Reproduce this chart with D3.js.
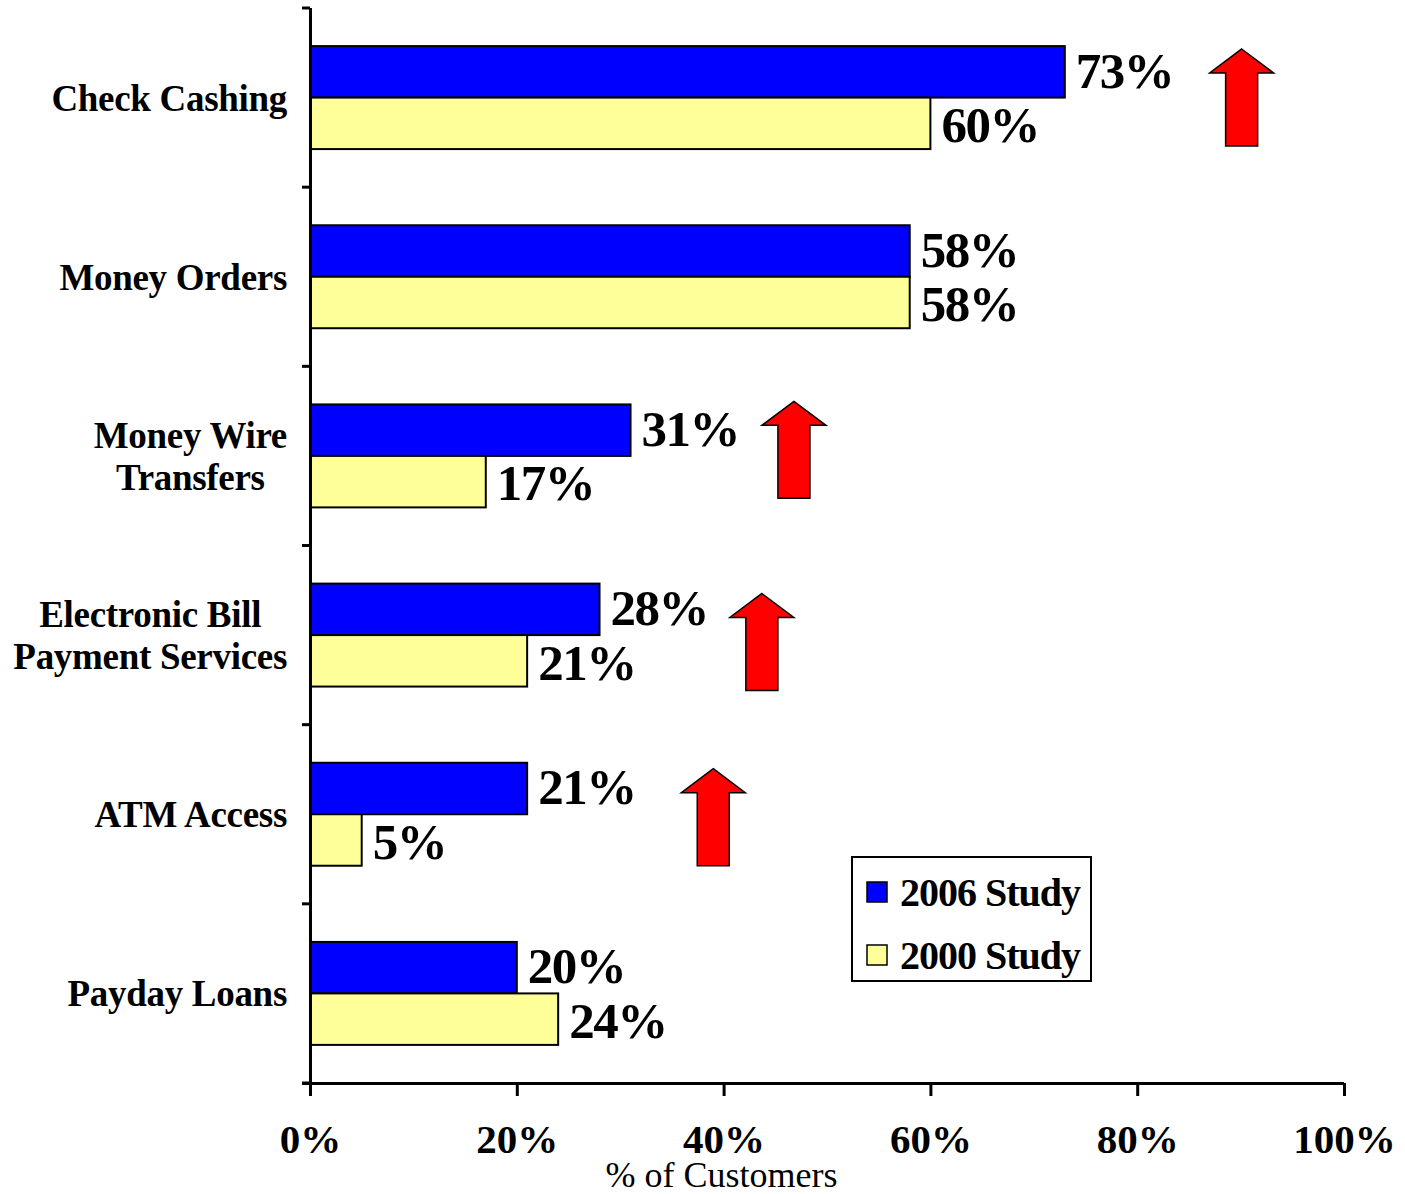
<!DOCTYPE html>
<html>
<head>
<meta charset="utf-8">
<script src="https://cdn.jsdelivr.net/npm/d3@7"></script>
<style>
  body { margin: 0; background: #fff; }
  svg { font-family: "Liberation Serif", "Times New Roman", serif; }
</style>
</head>
<body>
<div id="chart"></div>
<script>
const categories = [
    ["Check Cashing"],
    ["Money Orders"],
    ["Money Wire", "Transfers"],
    ["Electronic Bill", "Payment Services"],
    ["ATM Access"],
    ["Payday Loans"]
];
const seriesNames = ["2006 Study", "2000 Study"];
const values2006 = [73, 58, 31, 28, 21, 20];
const values2000 = [60, 58, 17, 21, 5, 24];
const xTicks = [0, 20, 40, 60, 80, 100];
// red "increase" arrows: category index and horizontal spot (in % units)
const arrowCats = [0, 2, 3, 4];
const arrowSpots = [90.1, 46.8, 43.7, 39.0];

const colors = ["#0000ff", "#ffff99"];
const width = 1405, height = 1194;
const margin = { left: 310, right: 61, top: 8, bottom: 111 };
const arrowTop = { 0: 41, 2: 35, 3: 48, 4: 44 };

const svg = d3.select("#chart").append("svg")
    .attr("width", width)
    .attr("height", height)
    .attr("viewBox", [0, 0, width, height]);

const keys = categories.map(d => d.join(" "));
const data = keys.map((k, i) => ({ key: k, lines: categories[i], vals: [values2006[i], values2000[i]] }));

const x = d3.scaleLinear([0, 100], [margin.left, width - margin.right]);
const y = d3.scaleBand(keys, [margin.top, height - margin.bottom]);
const ySub = d3.scaleBand([0, 1], [0, y.bandwidth()]).paddingOuter(0.74);

// bars
const groups = svg.append("g").selectAll("g")
    .data(data)
    .join("g")
    .attr("transform", d => `translate(0, ${y(d.key)})`);

groups.selectAll("rect")
    .data(d => d.vals.map((v, i) => ({ v, i })))
    .join("rect")
    .attr("x", x(0))
    .attr("y", d => ySub(d.i))
    .attr("width", d => x(d.v) - x(0))
    .attr("height", ySub.bandwidth())
    .attr("fill", d => colors[d.i])
    .attr("stroke", "#000")
    .attr("stroke-width", 2);

groups.selectAll("text.val")
    .data(d => d.vals.map((v, i) => ({ v, i })))
    .join("text")
    .attr("class", "val")
    .attr("x", d => x(d.v) + 11)
    .attr("y", d => ySub(d.i) + ySub.bandwidth() / 2 + (d.i == 1 ? 2 : -1))
    .attr("dy", "0.33em")
    .attr("font-size", 51)
    .attr("font-weight", "bold")
    .attr("letter-spacing", -1.5)
    .text(d => d.v + "%");

// category labels
const labels = groups.append("text")
    .attr("font-size", 37)
    .attr("font-weight", "bold")
    .attr("letter-spacing", -0.3);
labels.selectAll("tspan")
    .data(d => d.lines.map((t, i) => ({ t, i, n: d.lines.length })))
    .join("tspan")
    .attr("y", d => y.bandwidth() / 2 + (d.i - (d.n - 1) / 2) * 42)
    .attr("dy", "0.35em")
    .text(d => d.t);
labels.each(function () {
    const spans = d3.select(this).selectAll("tspan");
    let maxW = 0;
    spans.each(function () { maxW = Math.max(maxW, this.getComputedTextLength()); });
    spans.attr("text-anchor", "middle").attr("x", 287 - maxW / 2);
});

// arrows
const arrowPath = (cx, top, bottom) => {
    const hw = 32, sw = 16, sh = 24;
    return `M${cx},${top} L${cx + hw},${top + sh} L${cx + sw},${top + sh} L${cx + sw},${bottom}
            L${cx - sw},${bottom} L${cx - sw},${top + sh} L${cx - hw},${top + sh} Z`;
};
svg.append("g").selectAll("path")
    .data(arrowCats.map((c, i) => ({ c, s: arrowSpots[i] })))
    .join("path")
    .attr("d", d => {
        const top = y(keys[d.c]) + arrowTop[d.c];
        return arrowPath(x(d.s), top, top + 97);
    })
    .attr("fill", "#ff0000")
    .attr("stroke", "#000")
    .attr("stroke-width", 1.5);

// axes
const xAxis = svg.append("g")
    .attr("transform", `translate(0, ${height - margin.bottom})`)
    .call(d3.axisBottom(x).tickValues(xTicks).tickSize(13).tickSizeOuter(0).tickFormat(d => d + "%"));
xAxis.select(".domain").attr("stroke-width", 3).attr("d", `M${margin.left - 8},0.5H${width - margin.right}`);
xAxis.selectAll(".tick line").attr("stroke-width", 3);
xAxis.selectAll(".tick text")
    .attr("y", 70)
    .attr("dy", 0)
    .attr("font-size", 41)
    .attr("font-weight", "bold")
    .attr("font-family", "Liberation Serif");

const yAxis = svg.append("g")
    .attr("transform", `translate(${margin.left}, 0)`)
    .call(d3.axisLeft(y).tickSize(0).tickFormat(""));
yAxis.select(".domain").attr("stroke-width", 3).attr("d", `M0.5,${margin.top}V${height - margin.bottom}`);
yAxis.selectAll(".sep")
    .data(keys.map(k => y(k)).concat([height - margin.bottom]))
    .join("line")
    .attr("x1", -8).attr("x2", 0)
    .attr("y1", d => d).attr("y2", d => d)
    .attr("stroke", "#000")
    .attr("stroke-width", 3);

svg.append("text")
    .attr("x", x(40) - 2)
    .attr("y", 1187)
    .attr("text-anchor", "middle")
    .attr("font-size", 36)
    .text("% of Customers");

// legend
const legend = svg.append("g").attr("transform", "translate(852, 857)");
legend.append("rect")
    .attr("width", 239).attr("height", 124)
    .attr("fill", "#fff").attr("stroke", "#000").attr("stroke-width", 2);
const items = legend.selectAll("g.item")
    .data(seriesNames)
    .join("g")
    .attr("class", "item")
    .attr("transform", (d, i) => `translate(15, ${35 + i * 63})`);
items.append("rect")
    .attr("y", -10).attr("width", 20).attr("height", 20)
    .attr("fill", (d, i) => colors[i])
    .attr("stroke", "#000").attr("stroke-width", 1.5);
items.append("text")
    .attr("x", 33)
    .attr("dy", "0.35em")
    .attr("font-size", 40)
    .attr("font-weight", "bold")
    .attr("letter-spacing", -1)
    .text(d => d);
</script>
</body>
</html>
